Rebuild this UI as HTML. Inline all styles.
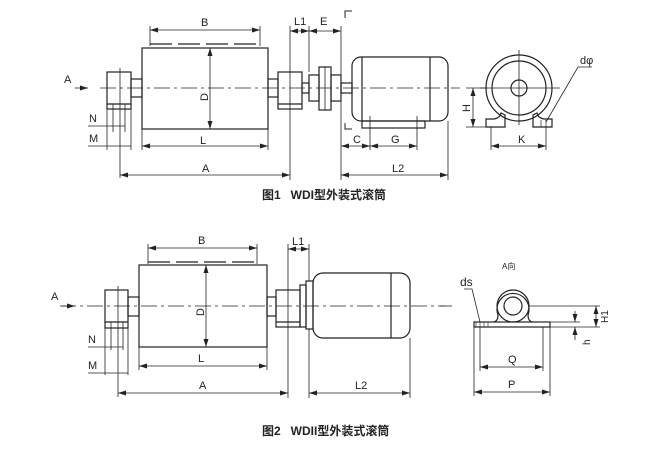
<!DOCTYPE html>
<html><head><meta charset="utf-8"><style>
html,body{margin:0;padding:0;background:#fff;}
svg{display:block;}
text{font-family:"Liberation Sans","Noto Sans CJK SC",sans-serif;fill:#222;}
.cap{white-space:pre;}
</style></head><body>
<svg width="667" height="450" viewBox="0 0 667 450" xmlns="http://www.w3.org/2000/svg">
<defs>
<marker id="a" markerWidth="8" markerHeight="6" refX="8" refY="3" orient="auto-start-reverse" markerUnits="userSpaceOnUse"><path d="M0,0.5 L8,3 L0,5.5 z" fill="#222"/></marker>
</defs>
<g stroke="#222" fill="none" stroke-width="1.2">
<!-- FIG 1 -->
<line x1="100" y1="88" x2="460" y2="88" stroke-dasharray="16,4,3,4" stroke-width="0.8"/>
<rect x="142" y="48" width="126" height="81"/>
<line x1="210" y1="48" x2="210" y2="129" stroke-width="0.8" marker-start="url(#a)" marker-end="url(#a)"/>
<line x1="150" y1="44" x2="260" y2="44" stroke-dasharray="22,6"/>
<line x1="150" y1="30" x2="260" y2="30" stroke-width="0.8" marker-start="url(#a)" marker-end="url(#a)"/>
<line x1="150" y1="26" x2="150" y2="46" stroke-width="0.8"/><line x1="260" y1="26" x2="260" y2="46" stroke-width="0.8"/>
<rect x="107" y="72" width="24" height="37"/><line x1="107" y1="104" x2="131" y2="104"/>
<line x1="120" y1="68" x2="120" y2="178" stroke-width="0.8"/>
<line x1="113" y1="104" x2="113" y2="132" stroke-width="0.8"/><line x1="125" y1="104" x2="125" y2="132" stroke-width="0.8"/>
<line x1="107" y1="109" x2="107" y2="150" stroke-width="0.8"/><line x1="131" y1="109" x2="131" y2="150" stroke-width="0.8"/>
<rect x="131" y="79" width="11" height="18"/>
<line x1="88" y1="126" x2="125" y2="126" stroke-width="0.8"/>
<line x1="88" y1="146" x2="131" y2="146" stroke-width="0.8"/>
<rect x="268" y="79" width="10" height="18"/>
<rect x="278" y="72" width="24" height="37"/><line x1="278" y1="104" x2="302" y2="104"/>
<rect x="302" y="83" width="7" height="10"/>
<rect x="309" y="75" width="10" height="26"/>
<rect x="319" y="67" width="12" height="43"/><line x1="325" y1="67" x2="325" y2="110" stroke-width="0.8"/>
<rect x="331" y="75" width="10" height="26"/>
<rect x="341" y="83" width="11" height="10"/>
<rect x="352" y="57" width="96" height="64" rx="9"/>
<line x1="362" y1="57" x2="362" y2="121"/><line x1="430" y1="57" x2="430" y2="121"/>
<rect x="362" y="121" width="63" height="7"/>
<line x1="370" y1="116" x2="370" y2="150" stroke-width="0.8"/><line x1="417" y1="116" x2="417" y2="150" stroke-width="0.8"/>
<line x1="290" y1="26" x2="290" y2="180" stroke-width="0.8"/>
<line x1="309" y1="26" x2="309" y2="72" stroke-width="0.8"/>
<line x1="341" y1="26" x2="341" y2="180" stroke-width="0.8"/>
<line x1="448" y1="121" x2="448" y2="180" stroke-width="0.8"/>
<line x1="142" y1="129" x2="142" y2="150" stroke-width="0.8"/><line x1="268" y1="129" x2="268" y2="150" stroke-width="0.8"/>
<line x1="290" y1="31" x2="309" y2="31" stroke-width="0.8" marker-start="url(#a)" marker-end="url(#a)"/>
<line x1="309" y1="31" x2="341" y2="31" stroke-width="0.8" marker-start="url(#a)" marker-end="url(#a)"/>
<line x1="142" y1="146" x2="268" y2="146" stroke-width="0.8" marker-start="url(#a)" marker-end="url(#a)"/>
<line x1="120" y1="175" x2="290" y2="175" stroke-width="0.8" marker-start="url(#a)" marker-end="url(#a)"/>
<line x1="341" y1="175" x2="448" y2="175" stroke-width="0.8" marker-start="url(#a)" marker-end="url(#a)"/>
<line x1="341" y1="146" x2="370" y2="146" stroke-width="0.8" marker-start="url(#a)" marker-end="url(#a)"/>
<line x1="370" y1="146" x2="417" y2="146" stroke-width="0.8" marker-start="url(#a)" marker-end="url(#a)"/>
<line x1="75" y1="88" x2="88" y2="88" stroke-width="0.8" marker-end="url(#a)"/>
<path d="M345,18 V11 H352" stroke-width="1"/><path d="M345,123 V129 H352" stroke-width="1"/>
<line x1="480" y1="88" x2="560" y2="88" stroke-width="0.8"/><line x1="519" y1="50" x2="519" y2="125" stroke-width="0.8"/>
<circle cx="519" cy="88" r="33"/><circle cx="519" cy="88" r="27"/><circle cx="519" cy="88" r="8"/>
<path d="M486,127 V119 H494 Q500,118 501,113 L505,115 V127 Z"/>
<path d="M552,127 V119 H544 Q538,118 537,113 L533,115 V127 Z"/>
<line x1="541" y1="120" x2="541" y2="127" stroke-width="0.7"/><line x1="546" y1="120" x2="546" y2="127" stroke-width="0.7"/>
<line x1="466" y1="88" x2="488" y2="88" stroke-width="0.8"/><line x1="466" y1="127" x2="486" y2="127" stroke-width="0.8"/>
<line x1="473" y1="88" x2="473" y2="127" stroke-width="0.8" marker-start="url(#a)" marker-end="url(#a)"/>
<line x1="491" y1="127" x2="491" y2="150" stroke-width="0.8"/><line x1="546" y1="127" x2="546" y2="150" stroke-width="0.8"/>
<line x1="491" y1="146" x2="546" y2="146" stroke-width="0.8" marker-start="url(#a)" marker-end="url(#a)"/>
<path d="M592,67 H578 L546,122" stroke-width="0.8"/>

<!-- FIG 2 -->
<line x1="60" y1="306" x2="445" y2="306" stroke-dasharray="16,4,3,4" stroke-width="0.8"/>
<rect x="139" y="265" width="128" height="82"/>
<line x1="206" y1="265" x2="206" y2="347" stroke-width="0.8" marker-start="url(#a)" marker-end="url(#a)"/>
<line x1="148" y1="262" x2="257" y2="262" stroke-dasharray="22,6"/>
<line x1="148" y1="248" x2="257" y2="248" stroke-width="0.8" marker-start="url(#a)" marker-end="url(#a)"/>
<line x1="148" y1="244" x2="148" y2="264" stroke-width="0.8"/><line x1="257" y1="244" x2="257" y2="264" stroke-width="0.8"/>
<rect x="105" y="290" width="23" height="38"/><line x1="105" y1="322" x2="128" y2="322"/>
<line x1="118" y1="286" x2="118" y2="397" stroke-width="0.8"/>
<line x1="111" y1="322" x2="111" y2="350" stroke-width="0.8"/><line x1="123" y1="322" x2="123" y2="350" stroke-width="0.8"/>
<line x1="105" y1="328" x2="105" y2="375" stroke-width="0.8"/><line x1="128" y1="328" x2="128" y2="375" stroke-width="0.8"/>
<rect x="128" y="297" width="11" height="19"/>
<line x1="88" y1="347" x2="123" y2="347" stroke-width="0.8"/>
<line x1="88" y1="373" x2="128" y2="373" stroke-width="0.8"/>
<rect x="267" y="297" width="9" height="19"/>
<rect x="276" y="290" width="24" height="37"/><line x1="276" y1="322" x2="300" y2="322"/>
<rect x="300" y="285" width="6" height="42"/>
<rect x="306" y="281" width="7" height="48"/>
<rect x="313" y="273" width="97" height="65" rx="10"/>
<line x1="391" y1="273" x2="391" y2="338"/>
<line x1="288" y1="244" x2="288" y2="398" stroke-width="0.8"/>
<line x1="309" y1="244" x2="309" y2="281" stroke-width="0.8"/><line x1="309" y1="329" x2="309" y2="398" stroke-width="0.8"/>
<line x1="410" y1="338" x2="410" y2="398" stroke-width="0.8"/>
<line x1="139" y1="347" x2="139" y2="370" stroke-width="0.8"/><line x1="267" y1="347" x2="267" y2="370" stroke-width="0.8"/>
<line x1="288" y1="249" x2="309" y2="249" stroke-width="0.8" marker-start="url(#a)" marker-end="url(#a)"/>
<line x1="139" y1="366" x2="267" y2="366" stroke-width="0.8" marker-start="url(#a)" marker-end="url(#a)"/>
<line x1="118" y1="393" x2="288" y2="393" stroke-width="0.8" marker-start="url(#a)" marker-end="url(#a)"/>
<line x1="309" y1="393" x2="410" y2="393" stroke-width="0.8" marker-start="url(#a)" marker-end="url(#a)"/>
<line x1="62" y1="306" x2="75" y2="306" stroke-width="0.8" marker-end="url(#a)"/>
<line x1="440" y1="306" x2="452" y2="306" stroke-width="0.8"/>
<rect x="474" y="322" width="76" height="5"/>
<path d="M494,322 Q498,321 498,315 A16,16 0 1 1 528,315 Q528,321 532,322"/>
<circle cx="513" cy="306" r="16"/><circle cx="513" cy="306" r="9"/>
<line x1="476" y1="322" x2="476" y2="327" stroke-width="0.6"/><line x1="480" y1="322" x2="480" y2="327" stroke-width="0.6"/>
<line x1="484" y1="322" x2="484" y2="327" stroke-width="0.6"/><line x1="488" y1="322" x2="488" y2="327" stroke-width="0.6"/>
<line x1="474" y1="327" x2="474" y2="396" stroke-width="0.8"/><line x1="550" y1="327" x2="550" y2="396" stroke-width="0.8"/>
<line x1="480" y1="327" x2="480" y2="371" stroke-width="0.8"/><line x1="543" y1="327" x2="543" y2="371" stroke-width="0.8"/>
<line x1="480" y1="367" x2="543" y2="367" stroke-width="0.8" marker-start="url(#a)" marker-end="url(#a)"/>
<line x1="474" y1="392" x2="550" y2="392" stroke-width="0.8" marker-start="url(#a)" marker-end="url(#a)"/>
<line x1="528" y1="306" x2="600" y2="306" stroke-width="0.8"/><line x1="550" y1="327" x2="600" y2="327" stroke-width="0.8"/>
<line x1="532" y1="322" x2="580" y2="322" stroke-width="0.8"/>
<line x1="596" y1="306" x2="596" y2="327" stroke-width="0.8" marker-start="url(#a)" marker-end="url(#a)"/>
<line x1="575" y1="311" x2="575" y2="322" stroke-width="0.8" marker-end="url(#a)"/>
<line x1="575" y1="340" x2="575" y2="327" stroke-width="0.8" marker-end="url(#a)"/>
<path d="M464,289 H472 L480,322" stroke-width="0.8"/>
</g>
<g font-size="11">
<text x="201" y="26">B</text><text x="294" y="25">L1</text><text x="320" y="25">E</text>
<text x="64" y="83">A</text><text x="200" y="144">L</text><text x="202" y="172">A</text>
<text x="89" y="122">N</text><text x="89" y="142">M</text>
<text x="353" y="143">C</text><text x="391" y="143">G</text><text x="392" y="172">L2</text>
<text x="518" y="143">K</text><text x="580" y="64">dφ</text>
<text transform="translate(208,101) rotate(-90)">D</text>
<text transform="translate(470,112) rotate(-90)">H</text>
<text x="198" y="244">B</text><text x="292" y="245">L1</text>
<text x="51" y="300">A</text><text x="198" y="362">L</text><text x="199" y="389">A</text>
<text x="88" y="343">N</text><text x="88" y="369">M</text><text x="355" y="389">L2</text>
<text transform="translate(204,316) rotate(-90)">D</text>
<text x="460" y="286" font-size="12">ds</text>
<text x="508" y="363">Q</text><text x="508" y="388">P</text>
<text x="502" y="269" font-size="8">A向</text>
<text transform="translate(608,323) rotate(-90)" font-size="10">H1</text>
<text transform="translate(590,345) rotate(-90)" font-size="10">h</text>
</g>
<g font-size="12" font-weight="bold">
<text class="cap" x="262" y="199" xml:space="preserve">图1   WDI型外装式滚筒</text>
<text class="cap" x="262" y="435" xml:space="preserve">图2   WDII型外装式滚筒</text>
</g>
</svg>
</body></html>
